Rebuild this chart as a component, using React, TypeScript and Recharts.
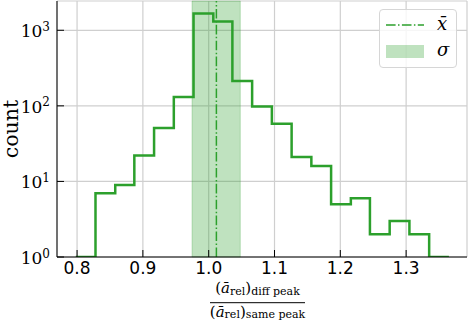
import React from "react";
import {
  ComposedChart,
  Line,
  XAxis,
  YAxis,
  CartesianGrid,
  ReferenceArea,
  ReferenceLine,
} from "recharts";

// histogram bin edges and counts
const binEdges = [
  0.798, 0.828, 0.858, 0.887, 0.917, 0.947, 0.977, 1.007, 1.036, 1.066,
  1.096, 1.126, 1.156, 1.186, 1.216, 1.245, 1.275, 1.305, 1.335, 1.365,
];
const binCounts = [1, 7, 9, 22, 51, 131, 1670, 1310, 214, 98, 58, 21, 16, 5, 6, 2, 3, 2, 1];

const xTicks = [0.8, 0.9, 1.0, 1.1, 1.2, 1.3];
const yTicks = [1, 10, 100, 1000];
const yMinorTicks = [
  2, 3, 4, 5, 6, 7, 8, 9, 20, 30, 40, 50, 60, 70, 80, 90,
  200, 300, 400, 500, 600, 700, 800, 900, 2000,
];

const meanValue = 1.0117;
const sigmaLow = 0.9747;
const sigmaHigh = 1.048;

const xDomain = [0.7695, 1.3925];
const yDomain = [1, 2440];

const GREEN = "#2ca02c";
const SERIF = "'DejaVu Serif', serif";
const SANS = "'DejaVu Sans', sans-serif";

// step outline: each edge carries the count of the bin that starts there
const stepData = binEdges.map((edge, i) => ({
  x: edge,
  count: binCounts[Math.min(i, binCounts.length - 1)],
}));

function PowerTick({ x, y, payload }: any) {
  const exp = Math.round(Math.log10(payload.value));
  return (
    <text x={x} y={y} textAnchor="end" fontFamily={SERIF} fontSize={17} fill="#000">
      <tspan dy={7}>10</tspan>
      <tspan dy={-6.5} fontSize={12}>{exp}</tspan>
    </text>
  );
}

function CountLabel({ viewBox }: any) {
  const cx = viewBox.x + 10.5;
  const cy = viewBox.y + viewBox.height / 2;
  return (
    <text
      x={cx}
      y={cy}
      transform={`rotate(-90 ${cx} ${cy})`}
      textAnchor="middle"
      dominantBaseline="central"
      fontFamily={SERIF}
      fontSize={20.5}
      fill="#000"
    >
      count
    </text>
  );
}

function RatioLabel({ viewBox }: any) {
  const cx = viewBox.x + viewBox.width / 2 - 4.5;
  const top = viewBox.y;
  return (
    <g fontFamily={SERIF} fill="#000">
      <text x={cx} y={top + 36.3} textAnchor="middle" fontSize={15}>
        (<tspan fontStyle="italic">ā</tspan>
        <tspan fontSize={11} dy={2}>rel</tspan>
        <tspan dy={-2}>)</tspan>
        <tspan fontSize={11} dy={2}>diff peak</tspan>
      </text>
      <line x1={cx - 47.5} x2={cx + 47.5} y1={top + 45.7} y2={top + 45.7} stroke="#000" strokeWidth={1} />
      <text x={cx} y={top + 59.5} textAnchor="middle" fontSize={15}>
        (<tspan fontStyle="italic">ā</tspan>
        <tspan fontSize={11} dy={1.5}>rel</tspan>
        <tspan dy={-1.5}>)</tspan>
        <tspan fontSize={11} dy={1.5}>same peak</tspan>
      </text>
    </g>
  );
}

function LegendBox() {
  return (
    <div
      style={{
        position: "absolute",
        left: 379,
        top: 9,
        width: 78,
        height: 59,
        border: "1px solid #d6d6d6",
        borderRadius: 4,
        background: "rgba(255,255,255,0.8)",
        fontFamily: SERIF,
        fontStyle: "italic",
        fontSize: 18,
        boxSizing: "border-box",
      }}
    >
      <svg width={40} height={6} style={{ position: "absolute", left: 6, top: 12 }}>
        <line x1={0} x2={38} y1={3} y2={3} stroke={GREEN} strokeWidth={1.5} strokeDasharray="9.6 2.4 1.5 2.4" />
      </svg>
      <span style={{ position: "absolute", left: 57, top: 4, lineHeight: "20px" }}>x̄</span>
      <div
        style={{
          position: "absolute",
          left: 6,
          top: 35,
          width: 38,
          height: 13,
          background: GREEN,
          opacity: 0.3,
        }}
      />
      <span style={{ position: "absolute", left: 57, top: 30, lineHeight: "20px" }}>σ</span>
    </div>
  );
}

export default function App() {
  return (
    <div style={{ position: "absolute", left: 0, top: 0, width: 469, height: 320, background: "#fff" }}>
      <ComposedChart
        width={469}
        height={320}
        data={stepData}
        margin={{ top: 1, right: 2, left: 0, bottom: 0 }}
      >
        <CartesianGrid stroke="#cfcfcf" strokeWidth={1.2} />
        <YAxis
          yAxisId="minor"
          scale="log"
          type="number"
          domain={yDomain}
          allowDataOverflow
          ticks={yMinorTicks}
          width={0}
          tick={false}
          axisLine={false}
          tickSize={-4}
          tickLine={{ stroke: "#000" }}
        />
        <YAxis
          scale="log"
          type="number"
          domain={yDomain}
          allowDataOverflow
          ticks={yTicks}
          width={57}
          tick={<PowerTick />}
          tickSize={-7}
          tickMargin={14}
          axisLine={{ stroke: "#000" }}
          tickLine={{ stroke: "#000" }}
          label={{ content: <CountLabel /> }}
        />
        <YAxis
          yAxisId="right"
          orientation="right"
          type="number"
          domain={yDomain}
          width={0}
          tick={false}
          tickLine={false}
          axisLine={{ stroke: "#000" }}
        />
        <XAxis
          dataKey="x"
          type="number"
          domain={xDomain}
          allowDataOverflow
          ticks={xTicks}
          tickFormatter={(v: number) => v.toFixed(1)}
          height={63}
          tickSize={-7}
          tickMargin={12}
          tick={{ fontFamily: SANS, fontSize: 17, fill: "#000" }}
          axisLine={{ stroke: "#000" }}
          tickLine={{ stroke: "#000" }}
          label={{ content: <RatioLabel /> }}
        />
        <XAxis
          xAxisId="top"
          orientation="top"
          type="number"
          domain={xDomain}
          height={0}
          tick={false}
          tickLine={false}
          axisLine={{ stroke: "#000" }}
        />
        <ReferenceArea
          x1={sigmaLow}
          x2={sigmaHigh}
          fill={GREEN}
          fillOpacity={0.3}
          stroke={GREEN}
          strokeOpacity={0.25}
        />
        <ReferenceLine
          x={meanValue}
          stroke={GREEN}
          strokeWidth={1.5}
          strokeDasharray="9.6 2.4 1.5 2.4"
        />
        <Line
          type="stepAfter"
          dataKey="count"
          stroke={GREEN}
          strokeWidth={2.5}
          dot={false}
          isAnimationActive={false}
        />
      </ComposedChart>
      <LegendBox />
    </div>
  );
}
